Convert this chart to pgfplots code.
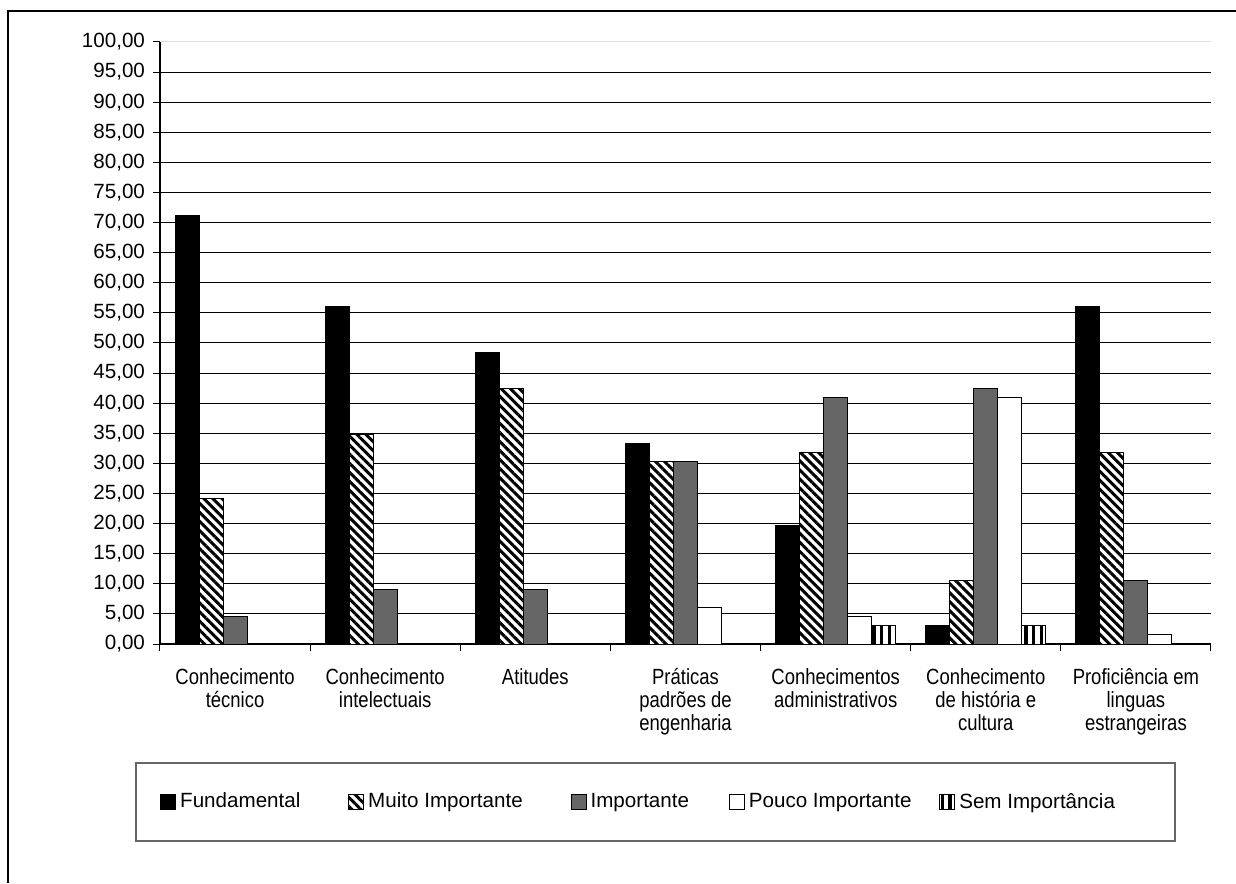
\documentclass[border=0pt]{standalone}
\usepackage{pgfplots}
\pgfplotsset{compat=1.18}
\usepackage{fontspec}
\setmainfont{Liberation Sans}
\newfontfamily\condensed{Liberation Sans}[FakeStretch=0.84]
\usetikzlibrary{patterns.meta}

\begin{document}
\begin{tikzpicture}[font=\fontsize{10.3pt}{12.4pt}\selectfont]
\useasboundingbox (-80pt,-119.5pt) rectangle (538pt,322pt);
\begin{axis}[
  at={(0,0)}, anchor=south west,
  scale only axis, width=525.5pt, height=301pt,
  xmin=0.5, xmax=7.5, ymin=0, ymax=100,
  axis x line*=bottom, axis y line*=left,
  axis line style={-, black, line width=0.6pt},
  ybar=0pt, bar width=12pt,
  tick align=outside,
  xtick={0.5,1.5,2.5,3.5,4.5,5.5,6.5,7.5},
  xticklabels={},
  x tick style={black, line width=0.5pt},
  major tick length=3.5pt,
  extra x ticks={1,2,3,4,5,6,7},
  extra x tick labels={{Conhecimento\\técnico},{Conhecimento\\intelectuais},{Atitudes},{Práticas\\padrões de\\engenharia},{Conhecimentos\\administrativos},{Conhecimento\\de história e\\cultura},{Proficiência em\\linguas\\estrangeiras}},
  extra x tick style={major tick length=0pt, grid=none,
     xticklabel style={align=center, anchor=north, yshift=-8.5pt, font=\condensed\fontsize{11pt}{11.6pt}\selectfont}},
  ytick={0,5,...,95},
  extra y ticks={100},
  extra y tick style={grid style={gray!25, line width=0.5pt}},
  ymajorgrids,
  grid style={black, line width=0.5pt},
  y tick style={black, line width=0.5pt},
  yticklabel style={/pgf/number format/fixed, /pgf/number format/fixed zerofill, /pgf/number format/precision=2, /pgf/number format/use comma, /pgf/number format/1000 sep={}, /pgf/number format/assume math mode=true, font=\fontsize{10.3pt}{12.4pt}\selectfont, xshift=-0.5pt},
  legend columns=5,
  legend style={draw=none, fill=none, at={(0,-0.2625)}, anchor=west, inner sep=0pt,
     /tikz/every even column/.append style={column sep=22pt},
     font=\fontsize{10.3pt}{12.4pt}\selectfont},
  legend image code/.code={\draw[#1, line width=0.5pt] (0pt,-3.7pt) rectangle (7.4pt,3.7pt);},
]
% Fundamental
\addplot[draw=black, fill=black, line width=0.5pt] coordinates {(1,71.21) (2,56.06) (3,48.48) (4,33.33) (5,19.70) (6,3.03) (7,56.06)};
% Muito Importante
\addplot[draw=black, fill=white, line width=0.5pt, postaction={pattern={Lines[angle=-45, distance=3.2pt, line width=1.5pt]}, pattern color=black}] coordinates {(1,24.24) (2,34.85) (3,42.42) (4,30.30) (5,31.82) (6,10.61) (7,31.82)};
% Importante
\addplot[draw=black, fill=black!60, line width=0.5pt] coordinates {(1,4.55) (2,9.09) (3,9.09) (4,30.30) (5,40.91) (6,42.42) (7,10.61)};
% Pouco Importante
\addplot[draw=black, fill=white, line width=0.5pt] coordinates {(4,6.06) (5,4.55) (6,40.91) (7,1.52)};
% Sem Importancia
\addplot[draw=black, fill=white, line width=0.5pt, postaction={pattern={Lines[angle=90, distance=3.8pt, line width=1.6pt]}, pattern color=black}] coordinates {(5,3.03) (6,3.03)};
\legend{Fundamental, Muito Importante, Importante\hspace*{-4pt}\mbox{}, Pouco Importante\hspace*{-10pt}\mbox{}, Sem Importância}
\end{axis}
\draw[line width=1pt] (-76pt,-119.5pt) -- (-76pt,316.5pt) -- (538pt,316.5pt);
\draw[black!60, line width=0.6pt] (-12pt,-59.5pt) rectangle (507.5pt,-98.5pt);
\end{tikzpicture}
\end{document}
